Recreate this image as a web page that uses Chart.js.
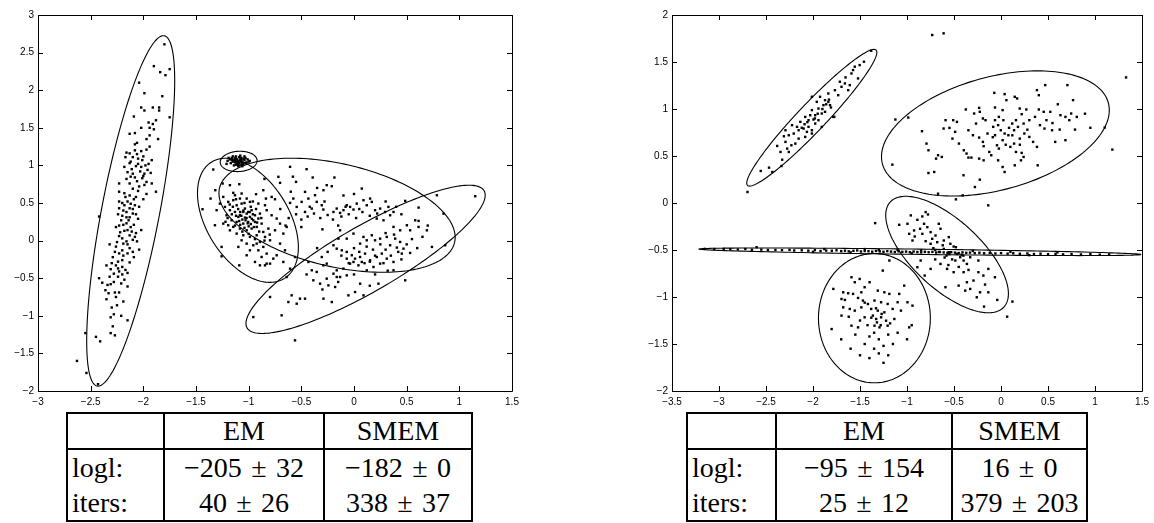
<!DOCTYPE html>
<html>
<head>
<meta charset="utf-8">
<script src="https://cdn.jsdelivr.net/npm/chart.js@4.4.0/dist/chart.umd.min.js"></script>
<style>
  body { margin: 0; background: #fff; width: 1154px; height: 523px; overflow: hidden; position: relative; }
  .plot { position: absolute; top: 0; height: 410px; }
  #leftWrap { left: 0; width: 530px; }
  #rightWrap { left: 600px; width: 554px; }
  table.res { position: absolute; top: 412px; border-collapse: collapse; table-layout: fixed;
    font-family: "Liberation Serif", "Times New Roman", serif; font-size: 28px; color: #000; }
  table.res td { border-left: 2px solid #000; border-right: 2px solid #000; padding: 0; text-align: center;
    height: 35px; line-height: 35px; white-space: nowrap; }
  table.res tr:first-child td { border-top: 2px solid #000; border-bottom: 2px solid #000; height: 34px; line-height: 34px; }
  table.res tr:last-child td { border-bottom: 2px solid #000; }
  table.res td.lab { text-align: left; padding-left: 4px; }
</style>
</head>
<body>
<div class="plot" id="leftWrap"><canvas id="leftChart"></canvas></div>
<div class="plot" id="rightWrap"><canvas id="rightChart"></canvas></div>
<table class="res" id="leftTable" style="left:66px;width:405px"></table>
<table class="res" id="rightTable" style="left:686px;width:400px"></table>
<script>
// ---- left panel data ----
const leftClusterA = [[-1.80,2.61],[-1.90,2.32],[-1.84,2.24],[-1.79,2.20],[-1.75,2.28],[-2.04,2.10],[-1.99,1.96],[-1.82,1.92],[-2.09,1.65],[-2.02,1.77],[-1.99,1.73],[-1.91,1.77],[-1.85,1.77],[-1.85,1.73],[-1.75,1.64],[-1.95,1.57],[-1.91,1.55],[-1.94,1.50],[-1.90,1.48],[-2.13,1.42],[-2.08,1.43],[-1.86,1.35],[-2.06,1.30],[-1.94,1.25],[-2.08,1.28],[-2.16,1.17],[-2.13,1.16],[-2.02,1.19],[-1.97,1.21],[-2.06,1.15],[-2.17,1.11],[-2.10,1.11],[-2.05,1.09],[-2.01,1.07],[-1.92,1.07],[-2.13,1.03],[-2.07,0.99],[-2.02,0.98],[-1.96,0.94],[-2.18,0.98],[-2.15,0.91],[-2.10,0.89],[-1.99,0.89],[-1.93,0.90],[-2.08,0.84],[-2.01,0.83],[-1.97,0.78],[-1.92,0.76],[-2.13,0.76],[-2.23,0.76],[-2.16,0.82],[-2.04,0.72],[-1.99,0.74],[-2.10,0.69],[-1.88,0.65],[-2.23,0.65],[-2.18,0.63],[-2.13,0.60],[-1.97,0.62],[-2.07,0.58],[-2.23,0.52],[-2.18,0.47],[-2.12,0.49],[-2.04,0.45],[-2.13,0.43],[-2.23,0.43],[-2.42,0.32],[-2.16,0.38],[-2.20,0.33],[-2.13,0.31],[-2.10,0.36],[-2.21,0.27],[-2.16,0.23],[-2.12,0.18],[-2.02,0.14],[-2.07,0.10],[-2.26,0.18],[-2.18,0.13],[-2.13,0.07],[-2.23,0.06],[-2.10,0.01],[-2.16,-0.01],[-2.06,-0.01],[-2.32,-0.05],[-2.26,-0.08],[-2.20,-0.13],[-2.13,-0.10],[-2.04,-0.12],[-2.15,-0.17],[-2.09,-0.22],[-2.23,-0.17],[-2.29,-0.22],[-2.20,-0.26],[-2.13,-0.29],[-2.26,-0.33],[-2.20,-0.35],[-2.35,-0.33],[-2.31,-0.38],[-2.23,-0.41],[-2.15,-0.43],[-2.32,-0.48],[-2.24,-0.48],[-2.18,-0.52],[-2.42,-0.50],[-2.39,-0.56],[-2.34,-0.59],[-2.31,-0.58],[-2.15,-0.61],[-2.27,-0.69],[-2.23,-0.69],[-2.35,-0.78],[-2.19,-0.81],[-2.30,-0.89],[-2.21,-1.00],[-2.31,-1.02],[-2.15,-1.06],[-2.29,-1.14],[-2.31,-1.23],[-2.27,-1.26],[-2.55,-1.23],[-2.45,-1.28],[-2.41,-1.34],[-2.63,-1.60],[-2.54,-1.76],[-2.43,-1.91],[-2.05,1.02],[-1.98,1.00],[-2.11,0.95],[-2.00,0.86],[-2.06,0.79],[-2.09,0.55],[-2.15,0.52],[-2.19,0.40],[-2.14,0.27],[-2.19,0.21],[-2.22,0.11],[-2.11,0.12],[-2.19,-0.04],[-2.24,-0.28],[-2.17,-0.39],[-2.28,-0.44],[-2.21,-0.57],[-2.36,-0.66],[-2.25,-0.86],[-2.05,0.29],
  [-2.08,1.2],[-2.12,1.05],[-2.0,1.12],[-1.95,1.02],[-2.03,0.92],[-2.12,0.85],[-2.05,0.66],[-2.0,0.55],[-2.17,0.58],[-2.08,0.47],[-2.2,0.5],[-2.1,0.42],[-2.24,0.35],[-2.07,0.35],[-2.16,0.31],[-2.23,0.2],[-2.09,0.21],[-2.15,0.14],[-2.2,0.03],[-2.08,0.05],[-2.25,-0.02],[-2.15,-0.05],[-2.27,-0.15],[-2.1,-0.15],[-2.19,-0.2],[-2.24,-0.37],[-2.3,-0.3],[-2.28,-0.55],[-2.2,-0.45],[-2.33,-0.7],[-2.26,-0.75],[-2.28,-0.98],[-1.94,1.4],[-1.88,1.6],[-2.02,1.5],[-1.97,1.35]];

const leftClusterB = [[-1.18,1.08],[-1.16,1.10],[-1.14,1.07],[-1.12,1.09],[-1.10,1.06],[-1.08,1.08],[-1.06,1.05],[-1.04,1.07],[-1.02,1.04],[-1.13,1.04],[-1.11,1.02],[-1.09,1.03],[-1.07,1.01],[-1.05,1.02],[-1.15,1.05],[-1.17,1.03],[-1.12,1.12],[-1.09,1.11],[-1.07,1.10],[-1.05,1.09],[-1.03,1.10],[-1.14,1.00],[-1.10,0.99],[-1.06,0.99],[-1.20,1.06],[-1.01,1.08],[-1.00,1.05],[-1.11,1.08],[-1.13,1.06],[-1.08,1.05],[-1.10,1.04],[-1.04,1.12],[-1.15,1.12],[-1.07,1.07],[-1.12,1.01],[-1.16,1.07],[-1.09,1.00],[-1.03,1.03],[-1.19,1.10],[-1.08,1.13],[-1.13,1.10],[-1.06,1.03],[-1.11,1.05],[-0.99,1.06],[-1.21,1.02]];

const leftClusterRest = [[-1.336,0.945],[-1.438,0.417],[-1.362,0.559],[-1.317,0.67],[-1.247,0.759],[-1.178,0.737],[-1.089,0.75],[-1.146,0.635],[-1.067,0.626],[-1.019,0.559],[-0.93,0.617],[-0.861,0.67],[-0.836,0.559],[-0.782,0.581],[-0.718,0.848],[-0.702,0.768],[-0.607,0.981],[-0.55,0.781],[-0.465,0.648],[-0.392,0.839],[-0.259,0.737],[-0.186,0.839],[-0.211,0.723],[-0.29,0.67],[-0.37,0.604],[-0.433,0.559],[-0.576,0.559],[-0.607,0.501],[-0.544,0.448],[-0.497,0.515],[-0.465,0.381],[-0.401,0.426],[-0.354,0.515],[-0.306,0.47],[-0.291,0.413],[-0.195,0.381],[-0.164,0.426],[-0.132,0.368],[-0.1,0.404],[-0.069,0.47],[-0.037,0.448],[-0.005,0.413],[0.026,0.492],[0.074,0.692],[0.09,0.537],[0.121,0.47],[0.169,0.515],[0.153,0.559],[0.2,0.404],[0.248,0.426],[0.295,0.381],[0.327,0.448],[0.343,0.337],[0.28,0.27],[0.216,0.293],[0.375,0.381],[0.486,0.528],[0.613,0.439],[0.787,0.603],[0.85,0.359],[0.866,-0.062],[1.151,0.59],[0.581,0.27],[0.613,0.262],[0.692,0.137],[0.74,-0.084],[0.613,0.182],[0.502,0.204],[0.533,0.137],[0.438,0.137],[0.375,0.182],[0.311,0.049],[0.391,0.026],[0.438,-0.018],[0.47,-0.107],[0.533,-0.164],[0.454,-0.173],[0.407,-0.093],[0.343,-0.062],[0.248,0.026],[0.2,0.004],[0.169,0.071],[0.121,0.004],[0.09,0.049],[0.058,-0.04],[-0.005,0.093],[-0.069,0.026],[-0.132,0.137],[-0.148,0.026],[-0.195,-0.062],[-0.164,-0.107],[-0.116,-0.129],[-0.069,-0.151],[-0.021,-0.195],[0.01,-0.24],[0.058,-0.218],[0.105,-0.173],[0.153,-0.262],[0.216,-0.218],[0.264,-0.173],[0.311,-0.24],[0.375,-0.284],[0.248,-0.306],[0.185,-0.351],[0.121,-0.395],[0.042,-0.329],[-0.005,-0.284],[-0.037,-0.306],[0.074,-0.284],[-0.069,-0.24],[-0.1,-0.373],[-0.164,-0.395],[-0.195,-0.44],[-0.132,-0.484],[-0.069,-0.462],[-0.259,-0.306],[-0.306,-0.218],[-0.291,-0.329],[-0.354,-0.417],[-0.259,-0.506],[-0.322,-0.573],[-0.243,-0.595],[-0.179,-0.617],[-0.053,-0.728],[0.01,-0.684],[0.09,-0.728],[0.232,-0.573],[0.058,-0.573],[-0.433,-0.284],[-0.401,-0.395],[-0.386,-0.528],[-0.164,-0.484],[-0.592,-0.728],[-0.623,-0.817],[-0.544,-0.839],[-0.513,-0.772],[-0.465,-0.772],[-0.797,-0.75],[-0.687,-0.994],[-0.956,-1.017],[-0.56,-1.327],[-0.29,-0.772],[-0.211,-0.817],[0.486,-0.528],[0.375,-0.395],[-0.56,-0.218],[-0.607,-0.373],[-0.671,-0.284],[-0.639,-0.484],[-0.829,-0.306],[-0.734,-0.195],[-0.797,0.004],[-0.702,-0.04],[-0.655,-0.129],[-0.861,-0.084],[-0.924,-0.04],
  [-1.241,0.581],[-1.194,0.515],[-1.146,0.537],[-1.114,0.47],[-1.067,0.492],[-1.035,0.426],[-1.004,0.381],[-0.972,0.404],[-0.94,0.337],[-0.988,0.315],[-1.035,0.306],[-1.083,0.337],[-1.13,0.381],[-1.178,0.404],[-1.21,0.337],[-1.162,0.27],[-1.114,0.248],[-1.051,0.226],[-1.004,0.248],[-0.956,0.27],[-0.908,0.293],[-0.877,0.226],[-0.924,0.182],[-0.972,0.16],[-1.019,0.137],[-1.083,0.16],[-1.146,0.182],[-1.178,0.137],[-1.114,0.093],[-1.051,0.071],[-0.988,0.049],[-0.924,0.071],[-0.861,0.115],[-0.813,0.16],[-0.845,0.049],[-0.893,-0.018],[-0.956,-0.062],[-1.019,-0.04],[-1.067,0.004],[-1.098,-0.084],[-0.988,-0.129],[-0.908,-0.129],[-0.829,-0.173],[-0.877,-0.218],[-0.94,-0.284],[-1.019,-0.195],[-1.089,-0.329],[-1.257,-0.084],[-1.257,-0.209],[-0.893,-0.329],[-0.845,-0.329],[-0.797,-0.306],[-0.766,-0.24],[-1.098,0.315],[-1.019,0.359],[-1.051,0.381],[-0.94,0.248],[-0.893,0.359],[-0.829,0.404],[-0.782,0.337],[-0.734,0.293],[-0.702,0.226],[-0.75,0.137],[-0.671,0.093],[-0.639,0.182],[-1.225,0.448],[-1.273,0.492],[-1.304,0.404],[-1.32,0.204],[-1.241,0.226],[-1.194,0.204],[-1.13,0.603],[-1.083,0.559],[-0.988,0.515],[-0.908,0.492],[-0.845,0.47],[-1.06,0.28],[-1.02,0.3],[-0.98,0.22],[-1.08,0.21],[-1.0,0.19],[-1.12,0.33],[-0.96,0.35],
  [-1.15,0.45],[-1.1,0.42],[-1.05,0.4],[-0.98,0.45],[-0.93,0.42],[-1.2,0.3],[-1.16,0.35],[-1.07,0.33],[-1.03,0.27],[-0.97,0.29],[-0.92,0.24],[-0.88,0.3],[-1.13,0.2],[-1.09,0.26],[-1.01,0.23],[-0.95,0.18],[-0.9,0.12],[-1.06,0.12],[-1.0,0.09],[-0.94,0.02],[-0.85,0.0],[-0.8,0.08],[-1.12,0.55],[-1.04,0.5],[-0.96,0.52],[-1.18,0.48],[-1.22,0.25],[-1.04,0.17],[-0.99,0.38],[-1.08,0.38],
  [-0.62,0.3],[-0.55,0.35],[-0.5,0.28],[-0.44,0.32],[-0.38,0.36],[-0.32,0.3],[-0.25,0.34],[-0.2,0.28],[-0.12,0.32],[-0.05,0.35],[0.02,0.3],[0.08,0.38],[0.15,0.33],[0.22,0.36],[0.05,0.42],[-0.08,0.45],[-0.28,0.52],[-0.42,0.45],[-0.7,0.42],[-0.75,0.55],[-0.6,0.65],[-0.35,0.7],[-0.1,0.6],[0.3,0.52],[0.4,0.45],[0.45,0.35],[-0.5,0.18],[-0.3,0.15],[-0.15,0.2],[-0.65,0.2],[-0.58,0.85],[-0.85,0.82],[-0.45,0.95],[0.0,0.62],
  [0.0,-0.1],[0.05,-0.15],[0.12,-0.08],[0.18,-0.12],[0.25,-0.05],[0.3,-0.12],[0.35,-0.2],[0.42,-0.15],[0.5,-0.05],[0.55,0.02],[0.2,-0.2],[0.1,-0.3],[0.15,-0.28],[0.28,-0.3],[-0.05,-0.3],[-0.12,-0.2],[0.45,-0.25],[0.6,-0.1],[0.65,0.05],[0.7,0.2],[0.3,0.1],[0.38,0.08],[-0.25,-0.15],[-0.35,-0.1],[-0.45,-0.45],[-0.15,-0.55],[0.0,-0.45],[0.2,-0.45],[0.32,-0.4],[-0.3,-0.65],[0.15,-0.6]];

// ellipses: [centre x, centre y, axis1 dx, axis1 dy, axis2 dx, axis2 dy]
const leftEllipses = [
  [-2.12, 0.395, 0.31, 2.33, 0.28, 0],
  [-1.095, 1.053, 0.175, 0.01, 0, 0.135],
  [-1.007, 0.27, 0.348, -0.772, 0.329, 0.292],
  [-0.161, 0.337, 1.116, -0.36, -0.109, -0.668],
  [0.11, -0.249, 1.125, 0.912, 0.155, -0.374]
];

// ---- right panel data ----
const rightClusterF = [[-2.697,0.117],[-2.556,0.341],[-2.468,0.376],[-2.433,0.33],[-2.335,0.394],[-2.328,0.461],[-2.346,0.543],[-2.258,0.543],[-2.275,0.579],[-2.381,0.607],[-2.293,0.65],[-2.23,0.614],[-2.31,0.71],[-2.258,0.721],[-2.205,0.739],[-2.293,0.774],[-2.223,0.828],[-2.17,0.81],[-2.153,0.774],[-2.083,0.703],[-2.065,0.757],[-2.135,0.863],[-2.09,0.838],[-2.048,0.81],[-2.012,0.774],[-2.083,0.916],[-2.03,0.934],[-1.995,0.888],[-1.977,0.845],[-1.942,0.881],[-2.012,0.988],[-1.942,1.005],[-1.907,0.952],[-1.872,0.97],[-1.889,1.041],[-1.837,1.076],[-1.809,1.016],[-1.785,0.916],[-1.925,1.13],[-2.012,1.13],[-1.837,1.165],[-1.767,1.2],[-1.732,1.147],[-1.697,1.236],[-1.661,1.272],[-1.626,1.2],[-1.609,1.254],[-1.591,1.378],[-1.574,1.414],[-1.521,1.325],[-1.504,1.467],[-1.458,1.503],[-1.381,1.62],[-1.774,0.916],[-2.012,0.739],[-2.153,0.685],[-2.188,0.632],[-1.872,1.094],[-1.819,1.041],[-1.977,0.934],[-2.048,0.881],[-2.1,0.792],[-1.907,0.81],[-1.96,1.076],[-1.714,1.29],[-1.654,1.336],[-1.556,1.45],[-1.9,1.0],[-1.86,1.05],[-1.95,0.95],[-1.98,0.9],[-1.83,1.1],[-2.06,0.86],[-2.12,0.8]];

const rightClusterG = [[-0.611,1.805],[-0.732,1.787],[-1.156,0.408],[-1.124,0.888],[-0.987,0.909],[-0.841,0.764],[-0.793,0.632],[-0.772,0.561],[-0.670,0.508],[-0.691,0.472],[-0.630,0.49],[-0.711,0.33],[-0.772,0.319],[-0.670,0.099],[-0.480,0.039],[-0.407,0.081],[-0.136,-0.025],[-0.590,0.881],[-0.509,0.881],[-0.469,0.863],[-0.611,0.792],[-0.549,0.799],[-0.488,0.757],[-0.517,0.685],[-0.448,0.632],[-0.396,0.561],[-0.367,0.526],[-0.347,0.483],[-0.315,0.483],[-0.399,0.295],[-0.278,0.17],[-0.226,0.248],[-0.233,0.472],[-0.185,0.454],[-0.375,0.995],[-0.286,0.952],[-0.233,1.012],[-0.226,0.97],[-0.193,0.899],[-0.165,0.881],[-0.266,0.845],[-0.347,0.774],[-0.299,0.721],[-0.233,0.696],[-0.193,0.65],[-0.185,0.604],[-0.144,0.739],[-0.083,0.81],[-0.064,0.881],[-0.072,1.172],[-0.064,1.016],[0.038,1.158],[0.057,1.094],[0.017,0.988],[-0.023,0.916],[0.025,0.881],[-0.031,0.828],[-0.003,0.774],[-0.064,0.721],[0.038,0.739],[0.078,0.721],[0.017,0.668],[-0.043,0.614],[-0.023,0.579],[-0.125,0.543],[-0.104,0.508],[-0.031,0.454],[0.017,0.383],[0.038,0.33],[0.146,1.13],[0.171,1.112],[0.199,1.005],[0.220,0.945],[0.159,0.881],[0.119,0.845],[0.180,0.81],[0.139,0.774],[0.240,0.845],[0.269,0.995],[0.301,0.881],[0.248,0.739],[0.199,0.685],[0.139,0.632],[0.099,0.597],[0.159,0.543],[0.220,0.533],[0.240,0.49],[0.212,0.454],[0.146,0.401],[0.382,1.201],[0.402,1.147],[0.470,1.254],[0.402,0.995],[0.454,0.97],[0.361,0.916],[0.301,0.703],[0.341,0.65],[0.382,0.597],[0.390,0.401],[0.524,0.97],[0.576,0.65],[0.632,0.934],[0.685,0.916],[0.706,1.254],[0.746,0.952],[0.726,0.881],[0.787,0.781],[0.766,1.094],[0.806,0.916],[0.685,0.668],[0.624,0.781],[0.543,0.774],[0.483,0.881],[0.462,0.792],[0.414,0.828],[1.103,0.803],[1.184,0.568],[1.33,1.336],[0.085,0.8],[0.12,0.72],[0.05,0.62],[0.20,0.62],[0.28,0.78],[-0.088,0.7],[0.547,0.85],[0.604,1.05],[0.893,0.95],[0.95,0.8]];

const rightClusterH = [[-1.339,-0.214],[-1.083,-0.232],[-0.995,-0.221],[-0.96,-0.132],[-0.89,-0.179],[-0.837,-0.143],[-0.802,-0.097],[-0.777,-0.122],[-0.819,-0.221],[-0.784,-0.257],[-0.861,-0.274],[-0.925,-0.292],[-0.977,-0.328],[-0.918,-0.356],[-0.837,-0.328],[-0.749,-0.31],[-0.697,-0.346],[-0.662,-0.221],[-0.644,-0.274],[-0.732,-0.381],[-0.679,-0.417],[-0.609,-0.399],[-0.556,-0.363],[-0.539,-0.434],[-0.504,-0.463],[-0.749,-0.434],[-0.802,-0.406],[-0.942,-0.399],[-0.609,-0.488],[-0.556,-0.523],[-0.469,-0.541],[-0.434,-0.577],[-0.486,-0.612],[-0.398,-0.612],[-0.363,-0.648],[-0.328,-0.577],[-0.241,-0.612],[-0.644,-0.648],[-0.574,-0.701],[-0.504,-0.736],[-0.398,-0.736],[-0.346,-0.712],[-0.241,-0.736],[-0.135,-0.701],[-0.188,-0.772],[-0.065,-0.79],[-0.293,-0.825],[-0.363,-0.843],[-0.451,-0.879],[-0.381,-0.932],[-0.328,-0.914],[-0.223,-0.95],[-0.258,-1.003],[-0.17,-0.868],[-0.135,-0.95],[-0.04,-1.031],[0.121,-1.049],[0.065,-1.209],[-0.181,-1.102],[-0.591,-0.896],[-0.855,-0.612],[-0.89,-0.683],[-0.749,-0.701],[-0.812,-0.772],[-0.62,-0.45],[-0.58,-0.56],[-0.52,-0.6],[-0.66,-0.52],[-0.7,-0.6],[-0.45,-0.68],[-0.56,-0.66],[-0.48,-0.47],[-0.72,-0.48],[-0.6,-0.58],[-0.4,-0.56]];

const rightClusterI = [[-1.188,-0.612],[-1.258,-0.719],[-1.784,-0.914],[-1.591,-0.79],[-1.556,-0.843],[-1.504,-0.808],[-1.398,-0.843],[-1.451,-0.896],[-1.679,-0.95],[-1.626,-0.96],[-1.574,-0.967],[-1.486,-0.95],[-1.311,-0.932],[-1.241,-0.95],[-1.188,-0.967],[-1.083,-0.967],[-1.03,-0.879],[-1.697,-1.021],[-1.661,-1.031],[-1.521,-1.01],[-1.469,-1.038],[-1.416,-1.074],[-1.346,-1.038],[-1.276,-1.056],[-1.206,-1.074],[-1.1,-1.056],[-0.995,-1.056],[-0.942,-1.092],[-1.679,-1.11],[-1.609,-1.127],[-1.556,-1.145],[-1.486,-1.11],[-1.381,-1.127],[-1.311,-1.145],[-1.241,-1.163],[-1.153,-1.127],[-1.065,-1.145],[-1.697,-1.198],[-1.62,-1.21],[-1.451,-1.216],[-1.363,-1.198],[-1.328,-1.234],[-1.276,-1.216],[-1.223,-1.252],[-1.135,-1.234],[-1.5,-1.25],[-1.591,-1.305],[-1.521,-1.323],[-1.346,-1.305],[-1.293,-1.323],[-1.206,-1.305],[-0.977,-1.323],[-1.802,-1.341],[-1.55,-1.4],[-1.4,-1.42],[-1.3,-1.45],[-1.2,-1.4],[-1.1,-1.38],[-1.45,-1.5],[-1.35,-1.55],[-1.25,-1.52],[-1.15,-1.5],[-1.6,-1.55],[-1.3,-1.6],[-1.2,-1.62],[-1.4,-1.65],[-1.25,-1.7],[-1.0,-1.45],[-0.95,-1.3],[-1.7,-1.45],[-1.5,-1.62],[-1.35,-1.38],[-1.28,-1.3],[-1.32,-1.27],[-1.38,-1.22],[-1.27,-1.18],[-1.33,-1.12],[-1.42,-1.3],[-1.18,-1.28],[-1.45,-1.06]];

const rightClusterJ = [[-3.15,-0.488],[-3.05,-0.49],[-2.95,-0.489],[-2.88,-0.492],[-2.8,-0.495],[-2.72,-0.49],[-2.65,-0.497],[-2.55,-0.496],[-2.48,-0.5],[-2.4,-0.499],[-2.33,-0.502],[-2.25,-0.498],[-2.2,-0.505],[-2.12,-0.503],[-2.05,-0.507],[-1.98,-0.501],[-1.92,-0.51],[-1.86,-0.506],[-1.8,-0.508],[-1.75,-0.503],[-1.7,-0.512],[-1.66,-0.507],[-1.62,-0.514],[-1.57,-0.509],[-1.53,-0.505],[-1.49,-0.516],[-1.45,-0.511],[-1.41,-0.513],[-1.37,-0.518],[-1.33,-0.51],[-1.29,-0.515],[-1.25,-0.519],[-1.21,-0.512],[-1.17,-0.517],[-1.13,-0.521],[-1.09,-0.514],[-1.05,-0.52],[-1.01,-0.517],[-0.97,-0.523],[-0.93,-0.516],[-0.89,-0.521],[-0.85,-0.525],[-0.81,-0.519],[-0.77,-0.524],[-0.73,-0.52],[-0.69,-0.527],[-0.65,-0.522],[-0.61,-0.526],[-0.57,-0.53],[-0.53,-0.523],[-0.49,-0.528],[-0.45,-0.532],[-0.41,-0.525],[-0.37,-0.53],[-0.33,-0.528],[-0.28,-0.533],[-0.23,-0.529],[-0.18,-0.535],[-0.12,-0.531],[-0.06,-0.537],[0.0,-0.533],[0.07,-0.539],[0.13,-0.535],[0.2,-0.54],[0.28,-0.537],[0.35,-0.543],[0.42,-0.539],[0.5,-0.544],[0.58,-0.541],[0.66,-0.546],[0.75,-0.543],[0.85,-0.548],[0.95,-0.545],[1.05,-0.55],[1.15,-0.547],[-2.6,-0.47],[-1.88,-0.49],[-1.45,-0.49],[-1.1,-0.5],[-0.95,-0.535],[-0.7,-0.5],[-0.55,-0.545],[-0.42,-0.55],[-0.3,-0.51],[0.1,-0.52],[0.3,-0.555],[-2.0,-0.52],[-1.6,-0.525],[-1.3,-0.5],[-0.85,-0.505],[0.6,-0.525]];

const rightEllipses = [
  [-2.013, 0.907, 0.684, 0.72, 0.106, -0.103],
  [-0.06, 0.74, 1.192, 0.354, 0.217, -0.564],
  [-0.574, -0.548, 0.606, -0.557, -0.242, -0.271],
  [-1.347, -1.225, 0.595, 0, 0, 0.688],
  [-0.861, -0.519, 2.351, -0.029, 0, 0.028]
];

// ---- tables ----
const tableHeader = ['', 'EM', 'SMEM'];
const rowLabels = ['logl:', 'iters:'];
const leftTableValues = [['\u2212205\u2004\u00b1\u200432', '\u2212182\u2004\u00b1\u20040'], ['40\u2004\u00b1\u200426', '338\u2004\u00b1\u200437']];
const rightTableValues = [['\u221295\u2004\u00b1\u2004154', '16\u2004\u00b1\u20040'], ['25\u2004\u00b1\u200412', '379\u2004\u00b1\u2004203']];

function fillTable(id, widths, values) {
  const t = document.getElementById(id);
  let html = '<colgroup>' + widths.map(w => '<col style="width:' + w + 'px">').join('') + '</colgroup>';
  html += '<tr>' + tableHeader.map(h => '<td>' + h + '</td>').join('') + '</tr>';
  rowLabels.forEach((lab, i) => {
    html += '<tr><td class="lab">' + lab + '</td><td>' + values[i][0] + '</td><td>' + values[i][1] + '</td></tr>';
  });
  t.innerHTML = html;
}
fillTable('leftTable', [97, 160, 148], leftTableValues);
fillTable('rightTable', [89, 176, 135], rightTableValues);

// ---- charts ----
const boxPlugin = {
  id: 'boxPlugin',
  afterDatasetsDraw(chart, args, opts) {
    const { ctx, chartArea: a, scales: { x, y } } = chart;
    ctx.save();
    ctx.strokeStyle = '#000';
    ctx.lineWidth = 1.1;
    opts.ellipses.forEach(e => {
      ctx.beginPath();
      for (let i = 0; i <= 180; i++) {
        const t = i / 180 * 2 * Math.PI;
        const px = x.getPixelForValue(e[0] + e[2] * Math.cos(t) + e[4] * Math.sin(t));
        const py = y.getPixelForValue(e[1] + e[3] * Math.cos(t) + e[5] * Math.sin(t));
        if (i === 0) ctx.moveTo(px, py); else ctx.lineTo(px, py);
      }
      ctx.stroke();
    });
    ctx.lineWidth = 1;
    ctx.beginPath();
    ctx.rect(Math.round(a.left) + 0.5, Math.round(a.top) + 0.5, Math.round(a.width), Math.round(a.height));
    x.ticks.forEach(t => {
      const p = Math.round(x.getPixelForValue(t.value)) + 0.5;
      ctx.moveTo(p, a.top); ctx.lineTo(p, a.top + 5);
      ctx.moveTo(p, a.bottom); ctx.lineTo(p, a.bottom - 5);
    });
    y.ticks.forEach(t => {
      const p = Math.round(y.getPixelForValue(t.value)) + 0.5;
      ctx.moveTo(a.left, p); ctx.lineTo(a.left + 5, p);
      ctx.moveTo(a.right, p); ctx.lineTo(a.right - 5, p);
    });
    ctx.stroke();
    ctx.restore();
  }
};

const tickFont = { family: '"Liberation Sans", Arial, sans-serif', size: 10 };
const fmt = v => String(v).replace('-', '\u2212');

function makeChart(id, groups, ellipses, xr, yr, yAxisWidth, padRight) {
  const datasets = groups.map(g => ({
    data: g.map(p => ({ x: p[0], y: p[1] })),
    pointRadius: 1.7,
    pointStyle: 'rect',
    backgroundColor: '#000',
    borderWidth: 0
  }));
  new Chart(document.getElementById(id), {
    type: 'scatter',
    data: { datasets },
    plugins: [boxPlugin],
    options: {
      responsive: true,
      maintainAspectRatio: false,
      animation: false,
      layout: { padding: { top: 15, left: 0, right: padRight, bottom: 0 } },
      plugins: { legend: { display: false }, tooltip: { enabled: false }, boxPlugin: { ellipses } },
      scales: {
        x: {
          type: 'linear', min: xr[0], max: xr[1],
          grid: { display: false, drawTicks: false }, border: { display: false },
          ticks: { stepSize: 0.5, callback: fmt, font: tickFont, color: '#000', padding: 5, maxRotation: 0, autoSkip: false },
          afterFit: s => { s.height = 19; }
        },
        y: {
          type: 'linear', min: yr[0], max: yr[1],
          grid: { display: false, drawTicks: false }, border: { display: false },
          ticks: { stepSize: 0.5, callback: fmt, font: tickFont, color: '#000', padding: 4, autoSkip: false },
          afterFit: s => { s.width = yAxisWidth; }
        }
      }
    }
  });
}

makeChart('leftChart', [leftClusterA, leftClusterB, leftClusterRest], leftEllipses, [-3, 1.5], [-2, 3], 38, 18);
makeChart('rightChart', [rightClusterF, rightClusterG, rightClusterH, rightClusterI, rightClusterJ], rightEllipses, [-3.5, 1.5], [-2, 2], 72, 7);
</script>
</body>
</html>
